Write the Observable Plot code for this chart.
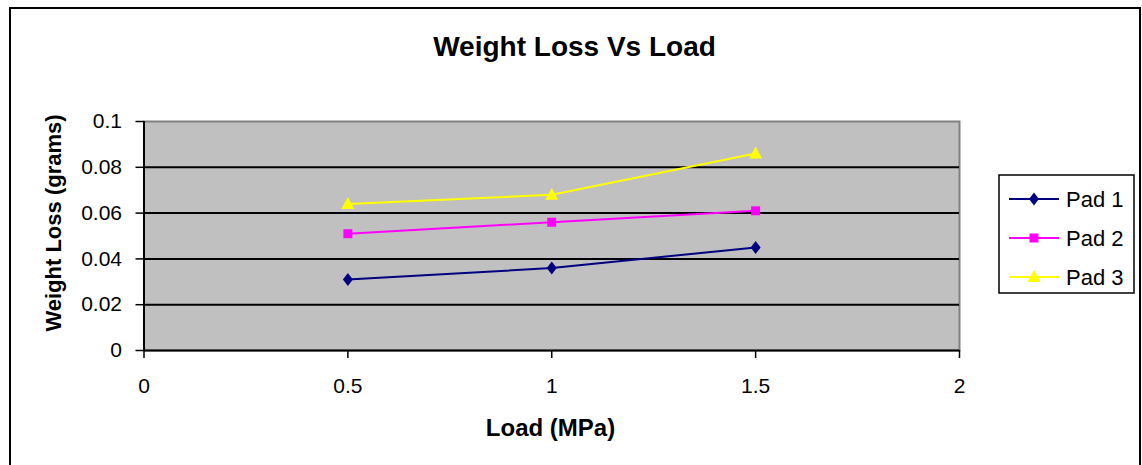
<!DOCTYPE html>
<html><head><meta charset="utf-8">
<script src="https://cdn.jsdelivr.net/npm/d3@7"></script>
<script src="https://cdn.jsdelivr.net/npm/@observablehq/plot@0.6"></script>
<style>
html,body{margin:0;padding:0;background:#fff;}
#chart{position:relative;width:1142px;height:465px;overflow:hidden;}
</style>
</head><body><div id="chart"></div>
<script>
// ---- data ----
const loads = [0.5, 1, 1.5];
const pad1 = [0.031, 0.036, 0.045];
const pad2 = [0.051, 0.056, 0.061];
const pad3 = [0.064, 0.068, 0.086];
const seriesNames = ["Pad 1", "Pad 2", "Pad 3"];
const seriesColors = ["#000080", "#ff00ff", "#ffff00"];
const xTicks = [0, 0.5, 1, 1.5, 2];
const yTicks = [0, 0.02, 0.04, 0.06, 0.08, 0.1];
const gridValues = [0.02, 0.04, 0.06, 0.08];
const titleText = "Weight Loss Vs Load";
const xLabel = "Load (MPa)";
const yLabel = "Weight Loss (grams)";

// ---- symbols ----
const diamond = {draw(c, size) { const r = Math.sqrt(size / Math.PI);
  c.moveTo(0, -1.3 * r); c.lineTo(r, 0); c.lineTo(0, 1.3 * r); c.lineTo(-r, 0); c.closePath(); }};
const square = {draw(c, size) { const r = Math.sqrt(size / Math.PI) * 0.9;
  c.moveTo(-r, -r); c.lineTo(r, -r); c.lineTo(r, r); c.lineTo(-r, r); c.closePath(); }};
const triangle = {draw(c, size) { const r = Math.sqrt(size / Math.PI);
  c.moveTo(0, -1.4 * r); c.lineTo(1.3 * r, r); c.lineTo(-1.3 * r, r); c.closePath(); }};
const symbols = [diamond, square, triangle];

const seriesValues = [pad1, pad2, pad3];
const rows = seriesNames.flatMap((name, i) => loads.map((x, j) => ({series: name, x, y: seriesValues[i][j]})));

const font = "'Liberation Sans', Arial, sans-serif";
const W = 1142, H = 465;
const pLeft = 143.5, pRight = 959, pTop = 121, pBottom = 350;
const fmt = d => String(d);

const marks = [
  Plot.frame({fill: "#c0c0c0", stroke: "#808080", strokeWidth: 2}),
  Plot.ruleY(gridValues, {stroke: "#000", strokeWidth: 2}),
  Plot.ruleX([0], {stroke: "#000", strokeWidth: 2}),
  Plot.ruleY([0], {stroke: "#000", strokeWidth: 2}),
  Plot.axisY({ticks: yTicks, tickFormat: fmt, tickSize: 8, tickPadding: 14, fontSize: 21, label: null, strokeWidth: 1.5}),
  Plot.axisX({ticks: xTicks, tickFormat: fmt, tickSize: 8, tickPadding: 20, fontSize: 21, label: null, strokeWidth: 1.5}),
  Plot.text([titleText], {frameAnchor: "top", lineAnchor: "middle", textAnchor: "middle", dx: 574 - (pLeft + pRight) / 2, dy: -74, fontSize: 28, fontWeight: "bold"}),
  Plot.text([xLabel], {frameAnchor: "bottom", lineAnchor: "middle", textAnchor: "middle", dx: 550 - (pLeft + pRight) / 2, dy: 78, fontSize: 24, fontWeight: "bold"}),
  Plot.text([yLabel], {frameAnchor: "left", lineAnchor: "middle", textAnchor: "middle", dx: 53 - pLeft, dy: 222.5 - (pTop + pBottom) / 2, rotate: -90, fontSize: 22, fontWeight: "bold"})
];
seriesNames.forEach((name, i) => {
  const d = rows.filter(r => r.series === name);
  marks.push(Plot.line(d, {x: "x", y: "y", stroke: seriesColors[i], strokeWidth: 2}));
  marks.push(Plot.dot(d, {x: "x", y: "y", fill: seriesColors[i], stroke: "none", r: 5, symbol: symbols[i]}));
});

const svgEl = Plot.plot({
  width: W, height: H,
  marginLeft: pLeft, marginRight: W - pRight, marginTop: pTop, marginBottom: H - pBottom,
  x: {domain: [0, 2]},
  y: {domain: [0, 0.1]},
  style: {fontFamily: font, color: "#000", background: "#fff", overflow: "visible"},
  marks
});
document.getElementById("chart").appendChild(svgEl);

// ---- outer border and legend ----
const svg = d3.select(svgEl);
svg.append("path").attr("d", `M10,${H + 10}V8H1140V${H + 10}`).attr("fill", "none").attr("stroke", "#000").attr("stroke-width", 2);
const lg = svg.append("g");
lg.append("rect").attr("x", 999).attr("y", 175).attr("width", 135).attr("height", 118)
  .attr("fill", "#fff").attr("stroke", "#000").attr("stroke-width", 1.5);
const legendY = [199, 238, 277];
seriesNames.forEach((name, i) => {
  const y = legendY[i];
  lg.append("line").attr("x1", 1009).attr("x2", 1059).attr("y1", y).attr("y2", y)
    .attr("stroke", seriesColors[i]).attr("stroke-width", 2);
  lg.append("path").attr("d", d3.symbol(symbols[i], Math.PI * 25)()).attr("transform", `translate(1034,${y})`)
    .attr("fill", seriesColors[i]);
  lg.append("text").attr("x", 1066).attr("y", y).attr("dy", "0.36em").attr("text-anchor", "start")
    .attr("font-family", font).attr("font-size", 22).attr("fill", "#000").text(name);
});
</script>
</body></html>
